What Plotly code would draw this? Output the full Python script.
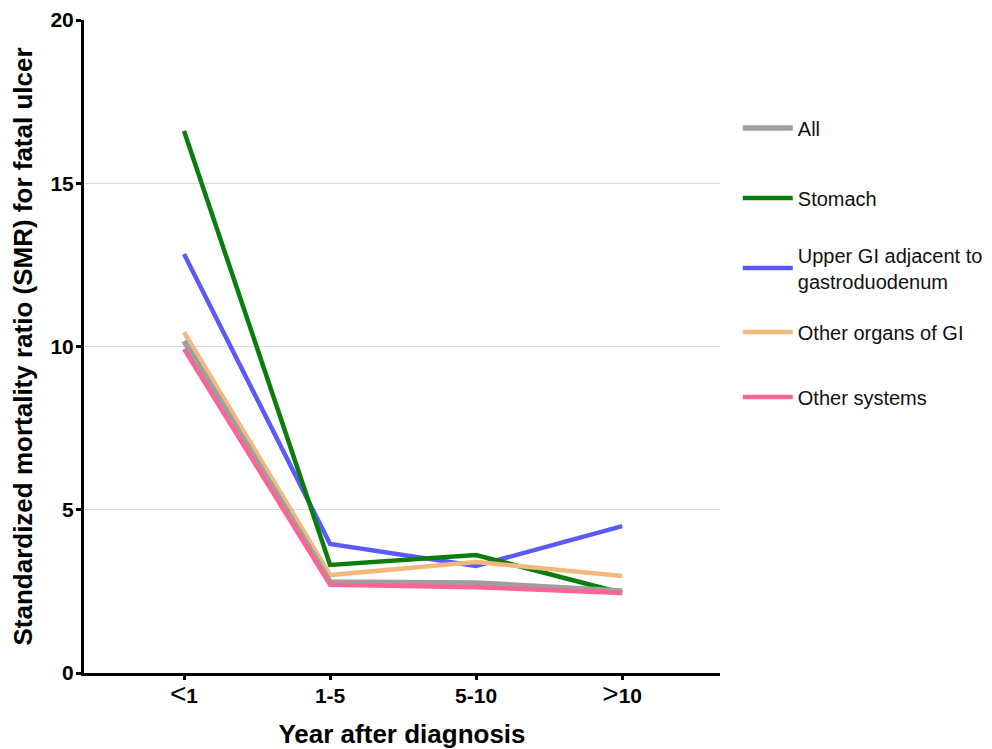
import plotly.graph_objects as go

categories = ["<span style='font-weight:normal;font-size:28px'>&lt;</span>1", "1-5", "5-10",
              "<span style='font-weight:normal;font-size:28px'>&gt;</span>10"]
series_names = ["All", "Stomach", "Upper GI adjacent to<br>gastroduodenum", "Other organs of GI", "Other systems"]
all_vals = [10.17, 2.79, 2.76, 2.51]
stomach_vals = [16.6, 3.31, 3.61, 2.45]
upper_gi_vals = [12.83, 3.95, 3.28, 4.5]
other_gi_vals = [10.44, 3.0, 3.4, 2.97]
other_sys_vals = [9.92, 2.7, 2.63, 2.45]

colors = {"All": "#9e9e9e", "Stomach": "#0a7d0a", "Upper": "#5a5aff",
          "OtherGI": "#f3b87c", "OtherSys": "#fb6593"}

x_idx = list(range(len(categories)))
fig = go.Figure()

def add(vals, name, color, width, legend, rank):
    fig.add_trace(go.Scatter(x=x_idx, y=vals, mode="lines", name=name,
                             line=dict(color=color, width=width),
                             legend=legend, legendrank=rank, showlegend=True))

add(upper_gi_vals, series_names[2], colors["Upper"], 4.5, "legend3", 3)
add(stomach_vals, series_names[1], colors["Stomach"], 4.5, "legend2", 2)
add(other_gi_vals, series_names[3], colors["OtherGI"], 4.5, "legend4", 4)
add(all_vals, series_names[0], colors["All"], 5.5, "legend", 1)
add(other_sys_vals, series_names[4], colors["OtherSys"], 4.5, "legend5", 5)

FONT = "Liberation Sans, Arial, sans-serif"
legfont = dict(family=FONT, size=20, color="#111")
def leg(y):
    return dict(x=1.028, y=y, xanchor="left", yanchor="middle", font=legfont,
                bgcolor="rgba(0,0,0,0)", itemwidth=50, visible=True)

def py(pix):
    return (673 - pix) / 653

fig.update_layout(
    width=984, height=741,
    margin=dict(l=76, r=272, t=12, b=76, autoexpand=False),
    plot_bgcolor="white", paper_bgcolor="white",
    showlegend=True,
    font=dict(family=FONT, color="black"),
    legend=leg(py(128)), legend2=leg(py(198)), legend3=leg(py(268)),
    legend4=leg(py(332)), legend5=leg(py(397)),
    xaxis=dict(range=[-0.685, 3.67], tickmode="array", tickvals=x_idx, ticktext=categories,
               showline=True, linecolor="black", linewidth=3, ticks="outside",
               ticklen=4, tickwidth=3, tickcolor="black", showgrid=False, zeroline=False,
               automargin=False, ticklabelstandoff=-2,
               tickfont=dict(size=21, family=FONT, weight="bold"),
               title=dict(text="<b>Year after diagnosis</b>", font=dict(size=26, family=FONT), standoff=19)),
    yaxis=dict(range=[0, 20], tickvals=[0, 5, 10, 15, 20], showline=True, linecolor="black",
               linewidth=3, ticks="outside", ticklen=5, tickwidth=3, tickcolor="black",
               showgrid=True, gridcolor="#d9d9d9", gridwidth=1.3, zeroline=False,
               automargin=False, ticklabelstandoff=-2,
               tickfont=dict(size=21, family=FONT, weight="bold"),
               title=dict(text="<b>Standardized mortality ratio (SMR) for fatal ulcer</b>",
                          font=dict(size=26, family=FONT), standoff=14)),
)

fig.write_html("out.html")
